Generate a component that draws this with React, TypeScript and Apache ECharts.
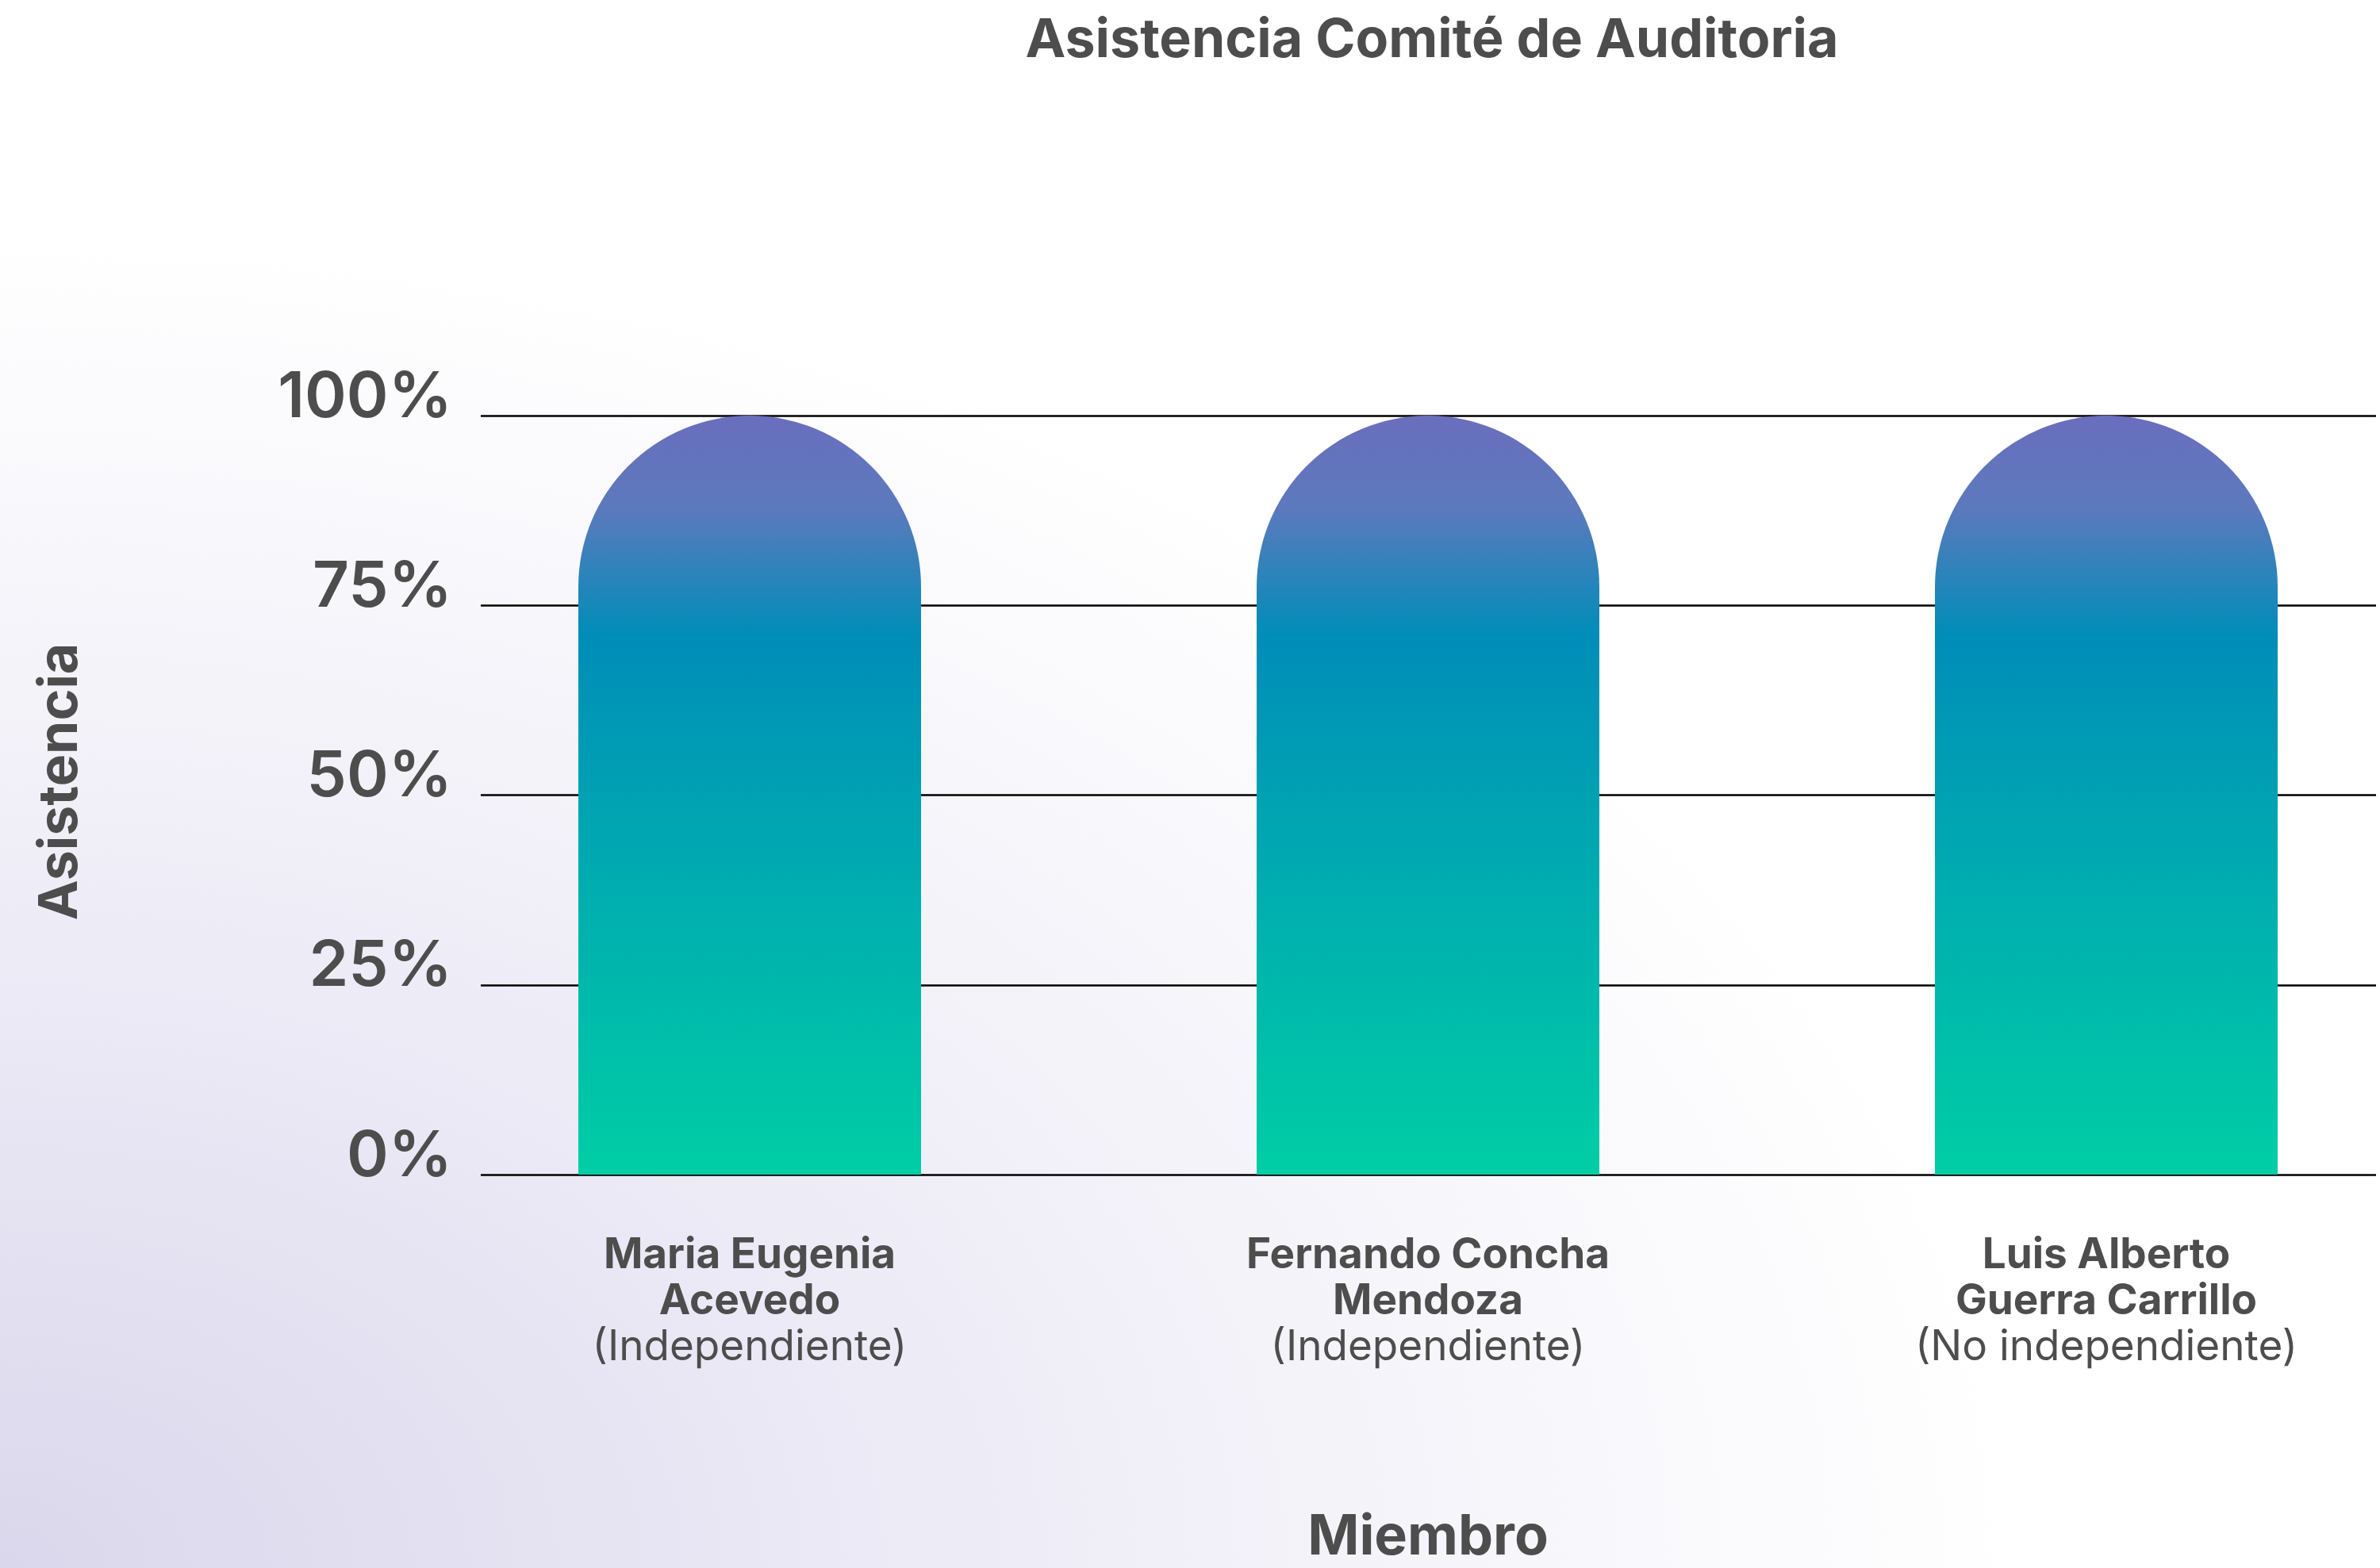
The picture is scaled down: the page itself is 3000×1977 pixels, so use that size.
import React, { useEffect, useRef } from "react";
import * as echarts from "echarts";

const TITLE = "Asistencia Comité de Auditoria";
const X_NAME = "Miembro";
const Y_NAME = "Asistencia";
const memberNames = ["Maria Eugenia\nAcevedo", "Fernando Concha\nMendoza", "Luis Alberto\nGuerra Carrillo"];
const memberTypes = ["(Independiente)", "(Independiente)", "(No independiente)"];
const attendance = [100, 100, 100];
const yTicks = [0, 25, 50, 75, 100];

const FONT = "Inter, 'Noto Sans', sans-serif";
const TEXT = "#4d4d4d";

export default function App() {
  const ref = useRef<HTMLDivElement>(null);
  useEffect(() => {
    if (!ref.current) return;
    const chart = echarts.init(ref.current, null, { renderer: "svg" });
    const categories = memberNames.map((n, i) => n + "||" + memberTypes[i]);
    chart.setOption({
      animation: false,
      backgroundColor: {
        type: "radial",
        x: 0,
        y: 1,
        r: 0.85,
        colorStops: [
          { offset: 0, color: "#dad7ec" },
          { offset: 0.55, color: "#f0eff8" },
          { offset: 1, color: "#ffffff" },
        ],
      },
      title: {
        text: TITLE,
        left: 1800,
        top: 8,
        textAlign: "center",
        textStyle: { fontFamily: FONT, fontSize: 68, fontWeight: 700, color: TEXT },
      },
      grid: [
        { left: 606, right: 5, top: 524, bottom: 496, outerBoundsMode: "none", containLabel: false },
        { left: 945, width: 1710, top: 524, bottom: 496, outerBoundsMode: "none", containLabel: false },
      ],
      xAxis: [
        { gridIndex: 0, type: "value", show: false, min: 0, max: 1 },
        {
          gridIndex: 1,
          type: "category",
          boundaryGap: false,
          data: categories,
          axisLine: { show: false },
          axisTick: { show: false },
          splitLine: { show: false },
          name: X_NAME,
          nameLocation: "middle",
          nameGap: 418,
          nameTextStyle: { fontFamily: FONT, fontSize: 70, fontWeight: 700, color: TEXT, lineHeight: 70 },
          axisLabel: {
            margin: 70,
            interval: 0,
            formatter: (v: string) => {
              const [name, type] = v.split("||");
              return name.split("\n").map((l) => `{b|${l}}`).join("\n") + `\n{r|${type}}`;
            },
            rich: {
              b: { fontFamily: FONT, fontSize: 53, fontWeight: 700, color: TEXT, lineHeight: 58 },
              r: { fontFamily: FONT, fontSize: 53, fontWeight: 400, color: TEXT, lineHeight: 58 },
            },
          },
        },
      ],
      yAxis: [
        {
          gridIndex: 0,
          type: "value",
          min: yTicks[0],
          max: yTicks[yTicks.length - 1],
          interval: 25,
          axisLine: { show: false },
          axisTick: { show: false },
          splitLine: { show: true, lineStyle: { color: "#000000", width: 2.5 } },
          axisLabel: {
            margin: 36,
            formatter: "{value}%",
            verticalAlign: "bottom",
            lineHeight: 56,
            fontFamily: FONT,
            fontSize: 80,
            fontWeight: 600,
            color: TEXT,
          },
          name: Y_NAME,
          nameLocation: "middle",
          nameRotate: 90,
          nameGap: 500,
          nameTextStyle: { fontFamily: FONT, fontSize: 68, fontWeight: 700, color: TEXT, padding: [0, 0, 0, 34] },
        },
        { gridIndex: 1, type: "value", show: false, min: 0, max: 100 },
      ],
      series: [
        {
          type: "bar",
          xAxisIndex: 1,
          yAxisIndex: 1,
          data: attendance,
          barWidth: 432,
          clip: false,
          itemStyle: {
            borderRadius: [216, 216, 0, 0],
            color: {
              type: "linear",
              x: 0,
              y: 0,
              x2: 0,
              y2: 1,
              colorStops: [
                { offset: 0, color: "#6a6ebd" },
                { offset: 0.12, color: "#5d79bd" },
                { offset: 0.29, color: "#008db8" },
                { offset: 0.6, color: "#00abb0" },
                { offset: 1, color: "#00cea5" },
              ],
            },
          },
        },
      ],
    });
    return () => chart.dispose();
  }, []);
  return (
    <div
      ref={ref}
      style={{ position: "fixed", left: 0, top: 0, width: 3000, height: 1977 }}
    />
  );
}
